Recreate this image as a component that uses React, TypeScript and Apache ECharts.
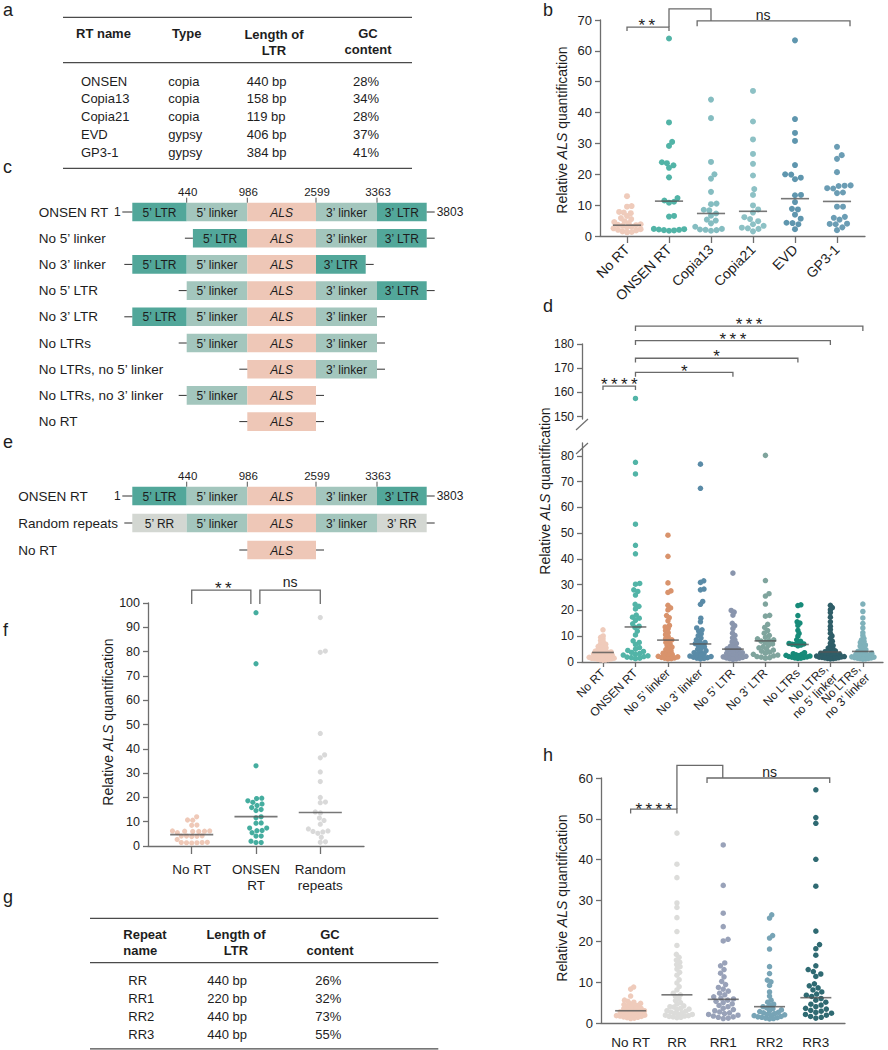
import React, { useEffect, useRef } from "react";
import * as echarts from "echarts";

const FONT = "'Liberation Sans', Arial, Helvetica, sans-serif";
const INK = "#1d1d1d";
const AXIS_COLOR = "#6e6e6e";
const MEDIAN_COLOR = "#555555";
const RULE_COLOR = "#4a4a4a";

/* ---------------- table a ---------------- */
const A_RT_NAMES = ["ONSEN", "Copia13", "Copia21", "EVD", "GP3-1"];
const A_TYPES = ["copia", "copia", "copia", "gypsy", "gypsy"];
const A_LTR_LENGTHS = ["440 bp", "158 bp", "119 bp", "406 bp", "384 bp"];
const A_GC = ["28%", "34%", "28%", "37%", "41%"];

/* ---------------- table g ---------------- */
const G_REPEAT_NAMES = ["RR", "RR1", "RR2", "RR3"];
const G_LTR_LENGTHS = ["440 bp", "220 bp", "440 bp", "440 bp"];
const G_GC = ["26%", "32%", "73%", "55%"];

/* ---------------- diagrams c / e ---------------- */
const SCALE_MARKS = ["440", "986", "2599", "3363"];
const C_CONSTRUCTS = [
  { name: "ONSEN RT", left: ["L5", "K5"], right: ["K3", "L3"], scale: true },
  { name: "No 5\u2019 linker", left: ["L5"], right: ["K3", "L3"] },
  { name: "No 3\u2019 linker", left: ["L5", "K5"], right: ["L3"] },
  { name: "No 5\u2019 LTR", left: ["K5"], right: ["K3", "L3"] },
  { name: "No 3\u2019 LTR", left: ["L5", "K5"], right: ["K3"] },
  { name: "No LTRs", left: ["K5"], right: ["K3"] },
  { name: "No LTRs, no 5\u2019 linker", left: [], right: ["K3"] },
  { name: "No LTRs, no 3\u2019 linker", left: ["K5"], right: [] },
  { name: "No RT", left: [], right: [] },
];
const E_CONSTRUCTS = [
  { name: "ONSEN RT", left: ["L5", "K5"], right: ["K3", "L3"], scale: true },
  { name: "Random repeats", left: ["R5", "K5"], right: ["K3", "R3"] },
  { name: "No RT", left: [], right: [] },
];
const SEG_LABEL: Record<string, string> = {
  L5: "5\u2019 LTR", K5: "5\u2019 linker", ALS: "ALS", K3: "3\u2019 linker", L3: "3\u2019 LTR", R5: "5\u2019 RR", R3: "3\u2019 RR",
};
const SEG_FILL: Record<string, string> = {
  L5: "#52a79a", L3: "#52a79a", K5: "#a3c6bd", K3: "#a3c6bd", ALS: "#eec7b7", R5: "#d3d7d2", R3: "#d3d7d2",
};
const SEG_W: Record<string, number> = { L5: 54.4, K5: 60.6, ALS: 68.7, K3: 61, L3: 49.7, R5: 54.4, R3: 49.7 };

/* ---------------- panel b ---------------- */
const B_CATEGORIES = ["No RT", "ONSEN RT", "Copia13", "Copia21", "EVD", "GP3-1"];
const B_NO_RT = [12.9, 9.7, 9.5, 7.8, 7.6, 7.4, 6.5, 5.8, 5.5, 4.8, 4.5, 4.2, 3.8, 3.6, 3.5, 3.3, 3.0, 2.8, 2.5, 2.2, 2.0, 1.8, 1.5, 1.3, 1.2];
const B_ONSEN = [64.0, 36.8, 30.5, 29.2, 23.9, 23.6, 22.9, 22.1, 19.0, 12.3, 11.5, 11.1, 10.8, 6.5, 6.3, 2.3, 2.2, 2.1, 2.0, 1.9, 1.8, 1.7];
const B_COPIA13 = [44.2, 38.2, 24.0, 20.0, 18.6, 14.3, 10.5, 10.3, 8.5, 8.3, 7.3, 6.6, 5.3, 5.0, 4.1, 3.0, 2.3, 2.1, 2.0, 1.9, 1.7];
const B_COPIA21 = [47.0, 37.1, 31.3, 26.6, 23.4, 19.6, 15.2, 13.3, 9.9, 8.6, 7.6, 6.1, 5.5, 4.8, 3.8, 3.3, 2.7, 2.5, 2.3, 1.5];
const B_EVD = [63.4, 37.9, 33.4, 30.8, 23.0, 20.0, 19.9, 18.9, 18.4, 13.3, 13.2, 11.0, 8.8, 8.6, 6.9, 5.6, 4.3, 4.2, 3.8, 2.2];
const B_GP3 = [28.9, 26.2, 25.0, 20.7, 16.4, 16.3, 16.2, 15.5, 15.4, 14.1, 13.9, 9.5, 9.5, 6.2, 5.9, 5.3, 4.0, 3.9, 3.8, 2.8, 1.9];
const B_MEDIANS = [3.5, 11.3, 7.3, 8.0, 12.1, 11.2];
const B_COLORS = ["#efcbbb", "#52b4a7", "#85bdc1", "#8dc1c5", "#5f96ae", "#6b9db4"];
const B_TICKS = [0, 10, 20, 30, 40, 50, 60, 70];

/* ---------------- panel d ---------------- */
const D_CATEGORIES = [
  "No RT", "ONSEN RT", "No 5\u2019 linker", "No 3\u2019 linker", "No 5\u2019 LTR", "No 3\u2019 LTR", "No LTRs",
  "No LTRs,\nno 5\u2019 linker", "No LTRs,\nno 3\u2019 linker",
];
const D_NO_RT = [12.5, 10.1, 9.6, 9.0, 8.4, 7.9, 7.3, 6.9, 6.6, 6.1, 5.8, 5.5, 5.2, 4.9, 4.7, 4.4, 4.2, 4.0, 3.9, 3.7, 3.6, 3.4, 3.2, 3.1, 2.9, 2.7, 2.6, 2.4, 2.2, 2.1, 1.9, 1.8, 1.7, 1.5, 1.4, 1.3, 1.2, 1.1, 1.0, 0.9, 0.8, 0.7];
const D_ONSEN = [157.5, 77.5, 73.0, 53.5, 45.3, 42.0, 30.5, 30.2, 28.0, 27.4, 26.0, 22.4, 21.6, 20.6, 18.2, 17.4, 17.0, 16.2, 14.8, 13.9, 13.4, 12.0, 10.5, 8.2, 7.6, 6.8, 5.6, 5.0, 4.5, 4.1, 3.7, 3.3, 3.0, 2.7, 2.4, 2.1, 1.9, 1.7, 1.5, 1.3];
const D_NO_5_LINKER = [49.2, 41.0, 30.7, 27.6, 27.0, 22.0, 21.0, 20.2, 18.0, 17.2, 16.0, 14.2, 13.6, 13.0, 12.2, 11.4, 10.6, 9.8, 9.0, 8.6, 8.4, 7.6, 7.0, 6.4, 5.8, 5.3, 4.8, 4.3, 3.8, 3.4, 3.0, 2.7, 2.4, 2.2, 2.0, 1.8, 1.6, 1.5, 1.3, 1.2];
const D_NO_3_LINKER = [76.8, 67.4, 31.5, 30.9, 28.3, 28.0, 23.5, 22.4, 17.0, 15.6, 13.2, 12.5, 12.0, 11.0, 10.2, 9.3, 8.6, 8.0, 7.6, 7.1, 6.9, 6.4, 5.9, 5.4, 4.9, 4.4, 4.0, 3.6, 3.2, 2.9, 2.6, 2.3, 2.1, 1.9, 1.7, 1.5, 1.4, 1.2];
const D_NO_5_LTR = [34.5, 20.0, 19.4, 18.2, 15.0, 14.1, 13.0, 11.2, 10.3, 9.4, 8.5, 7.8, 7.2, 6.6, 6.1, 5.7, 5.3, 5.1, 4.9, 4.6, 4.2, 3.9, 3.6, 3.3, 3.0, 2.8, 2.6, 2.4, 2.2, 2.0, 1.8, 1.6, 1.5, 1.3, 1.2, 1.0];
const D_NO_3_LTR = [80.2, 31.6, 26.5, 25.6, 22.5, 18.1, 17.8, 14.6, 13.4, 12.2, 11.2, 10.3, 9.6, 9.0, 8.6, 8.3, 8.1, 7.6, 7.0, 6.5, 6.0, 5.5, 5.0, 4.6, 4.2, 3.8, 3.4, 3.0, 2.7, 2.4, 2.1, 1.9, 1.7, 1.5];
const D_NO_LTRS = [22.2, 21.9, 18.0, 15.6, 15.1, 14.2, 12.3, 11.1, 10.0, 8.6, 8.0, 7.5, 7.2, 7.0, 6.9, 6.8, 6.6, 6.3, 3.6, 3.2, 3.0, 2.8, 2.6, 2.5, 2.3, 2.1, 2.0, 1.9, 1.8, 1.6, 1.5, 1.4];
const D_NO_LTRS_5 = [22.0, 21.1, 20.3, 19.2, 17.4, 15.6, 13.9, 12.6, 11.2, 10.1, 9.2, 8.1, 7.3, 6.4, 6.1, 5.4, 5.0, 4.7, 4.3, 4.0, 3.8, 3.7, 3.4, 3.3, 3.0, 2.9, 2.8, 2.7, 2.5, 2.4, 2.3, 2.2, 2.1, 2.0, 1.9, 1.8, 1.7, 1.6, 1.5, 1.4, 1.3, 1.2];
const D_NO_LTRS_3 = [22.5, 19.6, 17.1, 15.0, 13.2, 11.4, 10.3, 9.2, 8.6, 8.1, 7.6, 7.1, 6.6, 6.2, 5.7, 5.2, 4.8, 4.4, 4.1, 3.9, 3.6, 3.4, 3.2, 3.0, 2.8, 2.6, 2.4, 2.3, 2.1, 2.0, 1.9, 1.7, 1.6, 1.5, 1.4, 1.3, 1.2, 1.1];
const D_MEDIANS = [3.7, 13.6, 8.5, 7.0, 5.0, 8.2, 6.8, 3.9, 4.1];
const D_COLORS = ["#efcbbb", "#52b4a7", "#d9936c", "#5a8ba7", "#8995ad", "#7fa49d", "#178b79", "#2f5e68", "#7fb1ba"];
const D_UPPER_TICKS = [150, 160, 170, 180];
const D_LOWER_TICKS = [0, 10, 20, 30, 40, 50, 60, 70, 80];

/* ---------------- panel f ---------------- */
const F_CATEGORIES = ["No RT", "ONSEN\nRT", "Random\nrepeats"];
const F_NO_RT = [12.0, 10.7, 10.6, 8.6, 8.5, 6.2, 6.2, 6.1, 6.1, 6.0, 6.0, 5.5, 4.2, 4.1, 4.1, 4.0, 3.9, 2.7, 1.5, 1.4, 1.4, 1.3, 1.3, 1.2];
const F_ONSEN = [96.0, 75.0, 33.0, 19.7, 19.5, 18.6, 18.0, 17.3, 16.7, 15.8, 15.0, 14.6, 12.0, 11.6, 9.5, 9.4, 7.4, 7.4, 6.4, 6.3, 5.5, 4.1, 4.1, 2.0, 1.4, 1.4];
const F_RANDOM = [94.0, 80.2, 79.7, 46.3, 37.5, 36.3, 30.5, 26.5, 20.0, 18.1, 17.8, 14.0, 13.6, 11.5, 10.5, 9.0, 7.0, 6.2, 6.0, 5.8, 5.2, 3.6, 1.7, 1.5];
const F_MEDIANS = [4.7, 12.1, 13.8];
const F_COLORS = ["#efc9b8", "#45ad9f", "#d9d9d9"];
const F_TICKS = [0, 10, 20, 30, 40, 50, 60, 70, 80, 90, 100];

/* ---------------- panel h ---------------- */
const H_CATEGORIES = ["No RT", "RR", "RR1", "RR2", "RR3"];
const H_NO_RT = [8.8, 8.3, 6.6, 5.6, 5.3, 5.1, 4.8, 4.7, 4.5, 4.3, 4.2, 4.0, 3.8, 3.6, 3.5, 3.3, 3.2, 3.0, 3.0, 2.9, 2.7, 2.6, 2.5, 2.4, 2.2, 2.1, 2.0, 1.9, 1.8, 1.7, 1.6, 1.5, 1.4, 1.3, 1.2, 1.1];
const H_RR = [46.5, 38.9, 35.6, 29.4, 28.3, 25.8, 22.4, 19.0, 16.8, 16.1, 15.4, 14.9, 14.3, 13.8, 13.2, 12.4, 11.7, 10.6, 9.8, 8.9, 8.1, 7.3, 6.9, 6.5, 6.0, 5.5, 5.0, 4.6, 4.2, 4.0, 3.9, 3.6, 3.4, 3.3, 3.0, 2.9, 2.7, 2.5, 2.4, 2.2, 2.1, 1.9, 1.8, 1.7, 1.6, 1.5, 1.4, 1.3];
const H_RR1 = [43.6, 33.7, 26.9, 23.6, 20.5, 20.1, 14.7, 14.0, 13.1, 12.2, 11.3, 10.2, 9.4, 8.7, 8.3, 7.8, 7.3, 6.9, 6.4, 6.1, 5.9, 5.6, 5.3, 5.0, 4.7, 4.3, 4.0, 3.6, 3.3, 3.0, 2.7, 2.5, 2.3, 2.1, 1.9, 1.7, 1.5, 1.4, 1.2, 1.1];
const H_RR2 = [26.5, 25.7, 21.4, 20.8, 18.1, 13.8, 12.1, 10.5, 10.1, 9.2, 7.6, 6.6, 5.6, 5.1, 4.6, 4.3, 4.0, 3.7, 3.5, 3.2, 3.0, 2.8, 2.6, 2.5, 2.3, 2.1, 2.0, 1.9, 1.8, 1.6, 1.5, 1.4, 1.3, 1.2, 1.1, 1.0];
const H_RR3 = [57.1, 50.3, 48.9, 40.1, 33.5, 22.5, 19.2, 18.2, 16.6, 14.0, 13.1, 12.6, 12.0, 11.4, 9.6, 9.1, 8.6, 8.1, 7.6, 7.1, 6.8, 6.5, 6.0, 5.6, 5.1, 4.6, 4.4, 4.0, 3.6, 3.4, 3.1, 2.9, 2.6, 2.4, 2.1, 1.9, 1.6, 1.4, 1.2];
const H_MEDIANS = [3.0, 6.9, 5.8, 4.0, 6.2];
const H_COLORS = ["#efcbbb", "#dcdcda", "#99a2b9", "#77a4b6", "#2f6a72"];
const H_TICKS = [0, 10, 20, 30, 40, 50, 60];

/* ---------------- significance annotations (data coordinates) ---------------- */
const SIG_SEGMENTS = [
  { grid: 0, pts: [[0, 66.4], [0, 67.7], [1, 67.7], [1, 66.4]] },
  { grid: 0, pts: [[1, 67.7], [1, 73.6], [2, 73.6], [2, 69.7]] },
  { grid: 0, pts: [[1.67, 68.0], [1.67, 69.7], [5.31, 69.7], [5.31, 68.0]] },
  { grid: 1, pts: [[0, 161], [0, 162.6], [1, 162.6], [1, 161]] },
  { grid: 1, pts: [[1, 166.5], [1, 168.3], [4, 168.3], [4, 166.5]] },
  { grid: 1, pts: [[1, 172.4], [1, 174.1], [6, 174.1], [6, 172.4]] },
  { grid: 1, pts: [[1, 179.6], [1, 181.4], [7, 181.4], [7, 179.6]] },
  { grid: 1, pts: [[1, 185.4], [1, 187.4], [8, 187.4], [8, 185.4]] },
  { grid: 3, pts: [[0, 99.6], [0, 105.3], [0.92, 105.3], [0.92, 99.6]] },
  { grid: 3, pts: [[1.06, 99.6], [1.06, 105.3], [2, 105.3], [2, 99.6]] },
  { grid: 4, pts: [[0, 51.3], [0, 52.4], [1, 52.4], [1, 51.3]] },
  { grid: 4, pts: [[1, 52.4], [1, 63.1], [1.99, 63.1], [1.99, 60.0]] },
  { grid: 4, pts: [[1.65, 58.8], [1.65, 60.0], [4.3, 60.0], [4.3, 58.8]] },
];
const SIG_TEXTS = [
  { grid: 0, x: 0.47, y: 68.2, text: "**" },
  { grid: 0, x: 3.24, y: 71.6, text: "ns" },
  { grid: 1, x: 0.5, y: 163.1, text: "****" },
  { grid: 1, x: 2.5, y: 168.8, text: "*" },
  { grid: 1, x: 3.5, y: 175.0, text: "*" },
  { grid: 1, x: 4.0, y: 181.7, text: "***" },
  { grid: 1, x: 4.5, y: 187.9, text: "***" },
  { grid: 3, x: 0.49, y: 105.8, text: "**" },
  { grid: 3, x: 1.53, y: 108.6, text: "ns" },
  { grid: 4, x: 0.5, y: 52.4, text: "****" },
  { grid: 4, x: 3.0, y: 61.5, text: "ns" },
];

/* ---------------- layout ---------------- */
const GRIDS = [
  { left: 600, top: 20, width: 265, height: 216 }, // b
  { left: 582, top: 344, width: 301, height: 75 }, // d upper
  { left: 582, top: 443, width: 301, height: 219 }, // d lower
  { left: 148, top: 603, width: 216, height: 243 }, // f
  { left: 601, top: 778, width: 244, height: 245 }, // h
];
const X_RANGES = [[-0.643, 5.667], [-0.646, 8.62], [-0.646, 8.62], [-0.68, 2.68], [-0.64, 4.63]];
const Y_RANGES = [[0, 70], [149, 180], [0, 85], [0, 100], [0, 60]];

const PANELS = [
  { grid: 0, groups: [B_NO_RT, B_ONSEN, B_COPIA13, B_COPIA21, B_EVD, B_GP3], colors: B_COLORS, medians: B_MEDIANS, size: 6, maxHalf: 16 },
  { grid: 2, upper: 1, breakAt: 100, groups: [D_NO_RT, D_ONSEN, D_NO_5_LINKER, D_NO_3_LINKER, D_NO_5_LTR, D_NO_3_LTR, D_NO_LTRS, D_NO_LTRS_5, D_NO_LTRS_3], colors: D_COLORS, medians: D_MEDIANS, size: 5.5, maxHalf: 13 },
  { grid: 3, groups: [F_NO_RT, F_ONSEN, F_RANDOM], colors: F_COLORS, medians: F_MEDIANS, size: 5.2, maxHalf: 20 },
  { grid: 4, groups: [H_NO_RT, H_RR, H_RR1, H_RR2, H_RR3], colors: H_COLORS, medians: H_MEDIANS, size: 5.5, maxHalf: 16 },
];

function stars(t: string) {
  return t.split("").join("\u2009");
}

function placeSwarm(vals: number[], k: number, d: number) {
  const order = vals.map((_, i) => i).sort((a, b) => vals[a] - vals[b]);
  const placed: { x: number; y: number }[] = [];
  const out = new Array(vals.length).fill(0);
  for (const i of order) {
    const y = vals[i] * k;
    const near = placed.filter((p) => Math.abs(p.y - y) < d);
    const cands = [0];
    for (const p of near) {
      const dx = Math.sqrt(Math.max(0, d * d - (p.y - y) * (p.y - y)));
      cands.push(p.x + dx + 0.01, p.x - dx - 0.01);
    }
    cands.sort((a, b) => Math.abs(a) - Math.abs(b) || b - a);
    let chosen = cands[cands.length - 1];
    for (const c of cands) {
      if (near.every((p) => (p.x - c) * (p.x - c) + (p.y - y) * (p.y - y) >= d * d - 1e-6)) {
        chosen = c;
        break;
      }
    }
    placed.push({ x: chosen, y });
    out[i] = chosen;
  }
  return out;
}

function swarmOffsets(vals: number[], k: number, diam: number, maxHalf: number) {
  let f = 1;
  let res: number[] = [];
  for (let a = 0; a < 9; a++) {
    res = placeSwarm(vals, k, diam * f);
    const w = res.reduce((m, v) => Math.max(m, Math.abs(v)), 0);
    if (w <= maxHalf) break;
    f *= 0.92;
  }
  return res;
}

function text(x: number, y: number, t: string, o: any = {}) {
  return {
    type: "text", x, y, silent: true,
    style: { text: t, fill: INK, fontSize: 13, fontFamily: FONT, align: "left", verticalAlign: "middle", ...o },
  };
}
function line(x1: number, y1: number, x2: number, y2: number, stroke = RULE_COLOR, w = 1.2) {
  return { type: "line", silent: true, shape: { x1, y1, x2, y2 }, style: { stroke, lineWidth: w } };
}

function staticGraphics() {
  const els: any[] = [];
  const letters: [string, number, number][] = [
    ["a", 3, 10], ["b", 543, 10], ["c", 3, 167], ["d", 543, 306], ["e", 3, 442], ["f", 3, 630], ["g", 3, 897], ["h", 543, 755],
  ];
  letters.forEach(([l, x, y]) => els.push(text(x, y, l, { fontSize: 18 })));

  // table a
  els.push(line(63, 17.3, 412, 17.3), line(63, 62.7, 412, 62.7), line(63, 168.3, 412, 168.3));
  const hb = { fontWeight: "bold" };
  els.push(text(76, 33.5, "RT name", hb), text(172, 33.5, "Type", hb));
  els.push(text(274, 34, "Length of", { ...hb, align: "center" }), text(274, 50.5, "LTR", { ...hb, align: "center" }));
  els.push(text(368, 33, "GC", { ...hb, align: "center" }), text(368, 49.5, "content", { ...hb, align: "center" }));
  A_RT_NAMES.forEach((n, i) => {
    const y = 81 + i * 17.9;
    els.push(text(81, y, n), text(168.3, y, A_TYPES[i]), text(246.7, y, A_LTR_LENGTHS[i]), text(353, y, A_GC[i]));
  });

  // table g
  els.push(line(90, 918.3, 438.3, 918.3), line(90, 962.7, 438.3, 962.7), line(90, 1048.8, 438.3, 1048.8));
  els.push(text(123.3, 934, "Repeat", hb), text(123.3, 950, "name", hb));
  els.push(text(236, 934, "Length of", { ...hb, align: "center" }), text(236, 950, "LTR", { ...hb, align: "center" }));
  els.push(text(330, 934, "GC", { ...hb, align: "center" }), text(330, 950, "content", { ...hb, align: "center" }));
  G_REPEAT_NAMES.forEach((n, i) => {
    const y = 980.7 + i * 17.8;
    els.push(text(128.3, y, n), text(207.3, y, G_LTR_LENGTHS[i]), text(315.3, y, G_GC[i]));
  });

  // diagrams
  const diagram = (constructs: any[], y0: number, step: number, labelX: number) => {
    const alsLeft = 247.3;
    const boxH = 18.6;
    constructs.forEach((c, i) => {
      const yc = y0 + i * step;
      els.push(text(labelX, yc, c.name, { fontSize: 13.5 }));
      let x = alsLeft;
      c.left.forEach((k: string) => (x -= SEG_W[k]));
      const start = x;
      const order = [...c.left, "ALS", ...c.right];
      const bounds: number[] = [];
      order.forEach((k: string) => {
        const w = SEG_W[k];
        els.push({ type: "rect", silent: true, shape: { x, y: yc - boxH / 2, width: w, height: boxH }, style: { fill: SEG_FILL[k] } });
        els.push(text(x + w / 2, yc + 0.5, SEG_LABEL[k], { align: "center", fontSize: 12, fontStyle: k === "ALS" ? "italic" : "normal" }));
        x += w;
        bounds.push(x);
      });
      const end = x;
      const wl = c.scale ? 10 : 8;
      els.push(line(start - wl, yc, start, yc, "#333", 1), line(end, yc, end + 8, yc, "#333", 1));
      if (c.scale) {
        els.push(text(start - wl - 1.5, yc, "1", { align: "right", fontSize: 12 }));
        els.push(text(end + 10, yc, "3803", { fontSize: 12 }));
        bounds.slice(0, 4).forEach((bx, j) => {
          els.push(line(bx, yc - boxH / 2 - 5, bx, yc - boxH / 2, "#555", 1));
          els.push(text(bx + 1, yc - boxH / 2 - 10.5, SCALE_MARKS[j], { align: "center", fontSize: 11.5 }));
        });
      }
    });
  };
  diagram(C_CONSTRUCTS, 212, 26.2, 38.7);
  diagram(E_CONSTRUCTS, 496, 27, 18.3);

  // y axis titles
  const titles: [number, number][] = [[562, 130], [545, 491], [108, 722], [562, 898]];
  titles.forEach(([x, y]) =>
    els.push({
      type: "text", x, y, rotation: Math.PI / 2, silent: true,
      style: {
        text: "{n|Relative }{i|ALS}{n| quantification}",
        align: "center", verticalAlign: "middle", fill: INK,
        rich: {
          n: { fontSize: 14, fontFamily: FONT, fill: INK },
          i: { fontSize: 14, fontFamily: FONT, fontStyle: "italic", fill: INK },
        },
      },
    })
  );
  return els;
}

function yAxis(g: number, ticks: number[], fontSize: number) {
  return {
    type: "value", gridIndex: g, min: Y_RANGES[g][0], max: Y_RANGES[g][1],
    axisLine: { show: true, onZero: false, lineStyle: { color: AXIS_COLOR, width: 1.3 } },
    axisTick: { show: true, length: 5, customValues: ticks, lineStyle: { color: AXIS_COLOR, width: 1.3 } },
    axisLabel: { customValues: ticks, color: INK, fontSize, fontFamily: FONT, margin: 8, hideOverlap: false },
    splitLine: { show: false },
  };
}
function xAxis(g: number, cats: string[] | null, o: any = {}) {
  const idx = cats ? cats.map((_, i) => i) : [];
  return {
    type: "value", gridIndex: g, min: X_RANGES[g][0], max: X_RANGES[g][1], show: cats !== null,
    axisLine: { show: true, onZero: false, lineStyle: { color: AXIS_COLOR, width: 1.3 } },
    axisTick: { show: o.tick !== 0, length: o.tick || 6, customValues: idx, lineStyle: { color: AXIS_COLOR, width: 1.3 } },
    axisLabel: {
      show: o.noLabel ? false : true,
      customValues: idx,
      formatter: (v: number) => (cats ? cats[Math.round(v)] ?? "" : ""),
      color: INK, fontSize: o.fontSize || 13, fontFamily: FONT, rotate: o.rotate || 0, margin: o.margin || 8,
      lineHeight: o.lineHeight || 16, hideOverlap: false,
    },
    splitLine: { show: false },
  };
}

export default function App() {
  const ref = useRef<HTMLDivElement>(null);
  useEffect(() => {
    if (!ref.current) return;
    const chart = echarts.init(ref.current, null, { renderer: "svg", width: 888, height: 1050 });
    chart.setOption({
      animation: false,
      backgroundColor: "#ffffff",
      grid: GRIDS.map((g) => ({ ...g, containLabel: false, outerBoundsMode: "none" })),
      xAxis: [
        xAxis(0, B_CATEGORIES, { rotate: 45, fontSize: 14, margin: 11, tick: 7 }),
        xAxis(1, null),
        xAxis(2, D_CATEGORIES, { tick: 5, noLabel: true }),
        xAxis(3, F_CATEGORIES, { fontSize: 13.5, margin: 15, tick: 8, lineHeight: 16 }),
        xAxis(4, H_CATEGORIES, { fontSize: 13.5, margin: 11, tick: 0 }),
      ],
      yAxis: [
        yAxis(0, B_TICKS, 13),
        yAxis(1, D_UPPER_TICKS, 12),
        yAxis(2, D_LOWER_TICKS, 12),
        yAxis(3, F_TICKS, 12.5),
        yAxis(4, H_TICKS, 13),
      ],
      series: [],
    });

    const toPx = (g: number, p: number[]) => {
      const r = chart.convertToPixel({ gridIndex: g } as any, p) as any;
      if (r && isFinite(r[0]) && isFinite(r[1])) return r as number[];
      const G = GRIDS[g];
      const [x0, x1] = X_RANGES[g];
      const [y0, y1] = Y_RANGES[g];
      return [G.left + ((p[0] - x0) / (x1 - x0)) * G.width, G.top + G.height - ((p[1] - y0) / (y1 - y0)) * G.height];
    };

    const series: any[] = [];
    PANELS.forEach((p: any) => {
      const g = p.grid;
      const a = toPx(g, [0, 0]);
      const b = toPx(g, [1, 1]);
      const kx = b[0] - a[0];
      const ky = a[1] - b[1];
      p.groups.forEach((vals: number[], i: number) => {
        const low = vals.filter((v) => p.breakAt == null || v < p.breakAt);
        const high = p.breakAt == null ? [] : vals.filter((v) => v >= p.breakAt);
        const offs = swarmOffsets(low, ky, p.size, p.maxHalf);
        series.push({
          type: "scatter", xAxisIndex: g, yAxisIndex: g, silent: true, z: 2,
          symbolSize: p.size, itemStyle: { color: p.colors[i], opacity: 1 },
          data: low.map((v, j) => [i + offs[j] / kx, v]),
        });
        if (high.length) {
          series.push({
            type: "scatter", xAxisIndex: p.upper, yAxisIndex: p.upper, silent: true, z: 2,
            symbolSize: p.size, itemStyle: { color: p.colors[i], opacity: 1 },
            data: high.map((v) => [i, v]),
          });
        }
      });
      series.push({
        type: "scatter", xAxisIndex: g, yAxisIndex: g, silent: true, z: 5,
        symbol: "rect", symbolSize: [0.67 * kx, 1.6], itemStyle: { color: MEDIAN_COLOR },
        data: p.medians.map((m: number, i: number) => [i, m]),
      });
    });

    const graphic = staticGraphics();
    // rotated category labels of panel d, anchored at the axis positions of each category
    D_CATEGORIES.forEach((c, i) => {
      const [x, y] = toPx(2, [i, Y_RANGES[2][0]]);
      graphic.push({
        type: "text", x, y: y + 9, rotation: Math.PI / 4, silent: true,
        style: { text: c, fill: INK, fontSize: 12, fontFamily: FONT, align: "right", verticalAlign: "middle", lineHeight: 13 },
      });
    });
    SIG_SEGMENTS.forEach((s) => {
      graphic.push({
        type: "polyline", silent: true,
        shape: { points: s.pts.map((pt) => toPx(s.grid, pt)) },
        style: { stroke: "#6a6a6a", lineWidth: 1.3, fill: "none" },
      });
    });
    SIG_TEXTS.forEach((t) => {
      const [x, y] = toPx(t.grid, [t.x, t.y]);
      const isStar = t.text.indexOf("*") >= 0;
      graphic.push(text(x, y, isStar ? stars(t.text) : t.text, { align: "center", fontSize: isStar ? 17 : 14 }));
    });
    const ue = toPx(1, [X_RANGES[1][0], Y_RANGES[1][0]]);
    const le = toPx(2, [X_RANGES[2][0], Y_RANGES[2][1]]);
    [ue, le].forEach((e) => graphic.push(line(e[0] - 6, e[1] + 11, e[0] + 6, e[1], AXIS_COLOR, 1.2)));

    chart.setOption({ series, graphic });
    return () => chart.dispose();
  }, []);
  return (
    <div style={{ position: "absolute", left: 0, top: 0, width: 888, height: 1050, background: "#fff" }}>
      <div ref={ref} style={{ width: 888, height: 1050 }} />
    </div>
  );
}
